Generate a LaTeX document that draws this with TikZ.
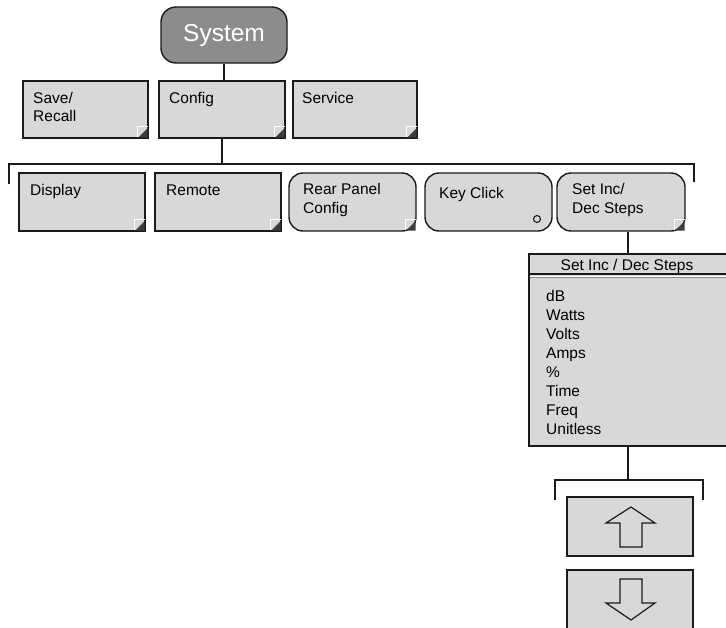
\documentclass[tikz,border=0pt]{standalone}
\usepackage{fontspec}
\setmainfont{Liberation Sans}
\usetikzlibrary{calc}
\definecolor{boxgray}{HTML}{D8D8D8}
\definecolor{sysgray}{HTML}{8C8C8C}
\definecolor{icondark}{HTML}{3C3C3C}
\definecolor{edge}{HTML}{1A1A1A}
\newcommand\cornermark[1]{%
  \draw[white, line width=1pt] ($(#1.south east)+(-11.5,-1.5)$) -- ++(0,-10.5) -- ++(10.5,0);
  \fill[icondark] ($(#1.south east)+(-10.5,-1)$) -- ($(#1.south east)+(-1,-10.5)$) -- ($(#1.south east)+(-1,-1)$) -- cycle;}
\begin{document}
\begin{tikzpicture}[x=1pt,y=-1pt,
  box/.style={draw=edge, fill=boxgray, line width=1.4pt, inner sep=0pt, minimum height=57pt},
  rbox/.style={box, rounded corners=14pt},
  lbl/.style={font=\fontsize{15.5}{18}\selectfont, anchor=base west, inner sep=0pt, text=black},
  wire/.style={draw=edge, line width=1.4pt},
  arrowline/.style={draw=edge, line width=1.2pt, line join=miter}]
\useasboundingbox[fill=white] (0,0) rectangle (726,627);

% System
\node[box, fill=sysgray, rounded corners=15pt, minimum width=126pt, minimum height=56pt,
      font=\fontsize{24.5}{28}\selectfont, text=white] (sys) at (224,35) {System};

% Row 1
\node[box, minimum width=125pt] (save) at (85.5,109.5) {};
\node[box, minimum width=126pt] (cfg) at (222,109.5) {};
\node[box, minimum width=124pt] (svc) at (355,109.5) {};
\node[lbl] (saveA) at (33,103) {Save/};
\node[lbl] (saveB) at (33,121) {Recall};
\node[lbl] (cfgA) at (169,103) {Config};
\node[lbl] (svcA) at (302,103) {Service};
\cornermark{save}
\cornermark{cfg}
\cornermark{svc}

\draw[wire] (sys.south) -- (sys.south |- cfg.north);

% Bus 1
\coordinate (busL) at (9,164);
\coordinate (busR) at (694,164);
\coordinate (busLd) at (9,184);
\coordinate (busRd) at (694,182);
\draw[wire] (busLd) -- (busL) -- (busR) -- (busRd);
\draw[wire] (cfg.south) -- (cfg.south |- busL);

% Row 2
\node[box, minimum width=126pt, minimum height=58pt] (disp) at (82,202) {};
\node[box, minimum width=126pt, minimum height=58pt] (rem) at (218,202) {};
\node[rbox, minimum width=127pt, minimum height=58pt] (rear) at (352.5,202) {};
\node[rbox, minimum width=127pt, minimum height=58pt] (key) at (488.5,202) {};
\node[rbox, minimum width=128pt, minimum height=58pt] (inc) at (621,202) {};
\node[lbl] (dispA) at (30,195) {Display};
\node[lbl] (remA) at (166,195) {Remote};
\node[lbl] (rearA) at (303,194) {Rear Panel};
\node[lbl] (rearB) at (303,213) {Config};
\node[lbl] (keyA) at (439,198) {Key Click};
\node[lbl] (incA) at (572,194) {Set Inc/};
\node[lbl] (incB) at (572,213) {Dec Steps};
\cornermark{disp}
\cornermark{rem}
\cornermark{rear}
\cornermark{inc}
\node[draw=edge, line width=1.1pt, circle, minimum size=7pt, inner sep=0pt] (keydot) at (537,219) {};

% Menu
\node[box, minimum width=198pt, minimum height=192pt] (menu) at (628,350) {};
\draw[edge, line width=1.4pt] (529,274) -- (727,274);
\draw[white, line width=1.2pt] (529.7,276.2) -- (727,276.2);
\draw[black!45, line width=0.8pt] (529.7,277.8) -- (727,277.8);
\draw[wire] (menu.north) -- (menu.north |- inc.south);
\node[lbl, anchor=base] (title) at (627,270) {Set Inc / Dec Steps};
\node[lbl] (m1) at (546,301) {dB};
\node[lbl] (m2) at (546,320) {Watts};
\node[lbl] (m3) at (546,339) {Volts};
\node[lbl] (m4) at (546,358) {Amps};
\node[lbl] (m5) at (546,377) {\%};
\node[lbl] (m6) at (546,396) {Time};
\node[lbl] (m7) at (546,415) {Freq};
\node[lbl] (m8) at (546,434) {Unitless};

% Bus 2
\coordinate (bus2L) at (555,480);
\coordinate (bus2R) at (703,480);
\coordinate (bus2Ld) at (555,500);
\coordinate (bus2Rd) at (703,500);
\draw[wire] (bus2Ld) -- (bus2L) -- (bus2R) -- (bus2Rd);
\draw[wire] (menu.south) -- (menu.south |- bus2L);

% Up / Down keys
\node[box, minimum width=126pt, minimum height=59pt] (up) at (630,526.5) {};
\node[box, minimum width=126pt, minimum height=62pt] (down) at (630,601) {};
\draw[arrowline] (631,507) -- (655,523) -- (642,523) -- (642,547) -- (620,547) -- (620,523) -- (606,523) -- cycle;
\draw[arrowline] (620,579) -- (642,579) -- (642,603) -- (655,603) -- (631,620) -- (606,603) -- (620,603) -- cycle;
\end{tikzpicture}
\end{document}
